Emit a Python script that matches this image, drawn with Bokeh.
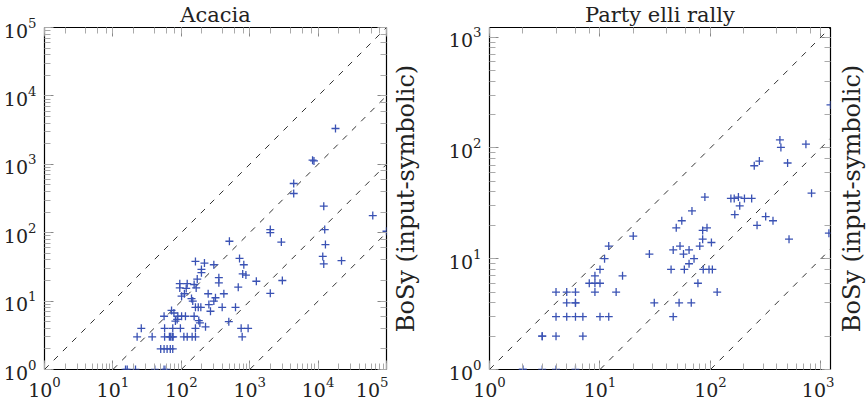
import math
from bokeh.plotting import figure
from bokeh.models import LogAxis, Range1d, LogTicker, CustomJSTickFormatter
from bokeh.layouts import row
from bokeh.embed import file_html
from bokeh.resources import INLINE

# ---------------- data ----------------
acacia_title = "Acacia"
acacia_max = 1e5
acacia_diag = [1, 10, 100, 1000]
acacia_x = [17960, 8300, 8700, 4400, 4400, 12100, 63000, 12500, 100000, 2000, 2000, 2900,
            12800, 11700, 12100, 22000, 505, 3000, 2000, 1250, 710, 820, 790, 880, 680,
            161, 218, 299, 197, 197, 171,
            354, 354, 95, 122, 154, 95, 118, 101, 111, 165,
            141, 147, 247, 316, 299, 419, 253, 267, 396, 620,
            161, 177, 193, 72, 78, 56, 89, 101, 115, 154,
            82, 87, 180, 187, 57, 75, 97, 161, 226, 26,
            495, 750, 948, 22.6, 37.5, 57, 67, 70, 74, 76,
            109, 122, 144, 161, 776, 50, 56, 62, 69, 75,
            15.3, 16.2, 21.4, 41, 56, 60]
acacia_y = [3340, 1150, 1120, 524, 374, 244, 178, 111, 105, 111, 100, 73,
            67, 45, 35, 39, 75, 20, 13, 19.5, 42, 34, 25, 24, 16,
            38, 36, 34, 29, 26, 21,
            22, 18.5, 18, 18, 17.5, 15.6, 15.3, 11.8, 12.8, 15.6,
            10.9, 10, 12.8, 11.2, 10, 12.8, 8.9, 7.1, 8.1, 8.1,
            8.1, 8.1, 8.1, 7.3, 6.7, 6, 6, 6, 6, 6,
            5.1, 5.4, 5.2, 4.8, 4, 4, 4, 4, 4.2, 4,
            5, 4, 4, 3, 3, 3, 3, 3, 3, 3,
            3, 3, 3, 3, 3, 2, 2, 2, 2, 2,
            1, 1, 1, 1, 1, 1]

party_title = "Party elli rally"
party_max = 1220
party_diag = [1, 10, 100]
party_x = [2, 2, 3, 4, 6, 3, 3, 4, 7, 4, 5, 6, 7, 10, 12, 5, 6, 6, 4, 5, 6, 9, 14, 8, 9, 10, 9, 16,
           10, 11, 12, 20,
           28, 31, 46, 52, 67, 44, 58, 46, 53, 57, 64, 49, 55, 68, 64, 71, 77, 80, 85, 85,
           93, 86, 97, 104, 102, 115,
           166, 184, 264, 316, 368, 514, 1180,
           89, 153, 164, 179, 203, 236,
           249, 277, 499, 425, 434, 731, 822, 1220]
party_y = [1, 1, 1, 1, 1, 2, 2, 2, 2, 3, 3, 3, 3, 3, 3, 4, 4, 4, 5, 5, 5, 5, 5, 6, 6, 6, 7, 7,
           8, 10, 13, 16,
           11, 4, 3, 4, 4, 8, 8, 12, 13, 11, 12, 19, 22, 27, 9, 10, 6, 13, 15, 18,
           19, 8, 8, 8, 14, 5,
           25, 30, 20, 24, 22, 15, 17,
           36, 35, 35, 36, 35, 35,
           69, 76, 73, 118, 101, 108, 39, 244]

ylabel = "BoSy (input-symbolic)"

FONT = "DejaVu Serif"
BLUE = "#3a52b4"
TXT = "#222222"
TOP, BOTTOM, FH = 25, 33, 342


def style_axis(ax, labels=True):
    ax.axis_line_color = None
    ax.major_tick_in = 9
    ax.major_tick_out = 0
    ax.minor_tick_in = 6
    ax.minor_tick_out = 0
    ax.major_tick_line_color = "#888888"
    ax.minor_tick_line_color = "#aaaaaa"
    ax.major_label_text_font = FONT
    ax.major_label_text_font_size = "19px"
    ax.major_label_text_color = TXT
    if not labels:
        ax.formatter = CustomJSTickFormatter(code="return ''")
        ax.major_label_text_font_size = "0px"
        ax.major_label_standoff = 0


def style_ylabel(ax, standoff):
    ax.axis_label = ylabel
    ax.axis_label_text_font = FONT
    ax.axis_label_text_font_size = "24px"
    ax.axis_label_text_font_style = "normal"
    ax.axis_label_text_color = TXT
    ax.axis_label_standoff = standoff


def make(title, xs, ys, vmax, diag, left, right, fw):
    p = figure(x_axis_type="log", y_axis_type="log",
               x_range=Range1d(1, vmax), y_range=Range1d(1, vmax),
               frame_width=fw, frame_height=FH,
               min_border_left=left, min_border_right=right,
               min_border_top=TOP, min_border_bottom=BOTTOM,
               output_backend="svg", toolbar_location=None, title=title)
    p.title.text_font = FONT
    p.title.text_font_size = "21px"
    p.title.text_font_style = "normal"
    p.title.text_color = TXT
    p.title.align = "center"
    p.title.standoff = 1
    p.grid.visible = False
    p.outline_line_color = "black"
    p.outline_line_width = 1.2
    for ax in p.xaxis + p.yaxis:
        style_axis(ax)
    p.xaxis.major_label_standoff = 7
    p.yaxis.major_label_standoff = 8

    top = LogAxis(ticker=LogTicker())
    style_axis(top, labels=False)
    p.add_layout(top, "above")
    rgt = LogAxis(ticker=LogTicker())
    style_axis(rgt, labels=False)
    p.add_layout(rgt, "right")

    for f in diag:
        p.line([f, vmax], [1, vmax / f], line_color="#333333", line_width=1,
               line_dash="6 7")
    p.scatter(xs, ys, marker="cross", size=8, line_color=BLUE, line_width=1.3)
    return p


p1 = make(acacia_title, acacia_x, acacia_y, acacia_max, acacia_diag, 41, 2, 342)
p2 = make(party_title, party_x, party_y, party_max, party_diag, 100, 4, 341)
# the y label of the left panel sits in the gap between the two panels
style_ylabel(p2.yaxis[0], 26)

# narrow strip carrying the y label of the right panel
p3 = figure(x_range=Range1d(0, 1), y_range=Range1d(0, 1),
            frame_width=1, frame_height=FH, min_border_left=0, min_border_right=0,
            min_border_top=TOP, min_border_bottom=BOTTOM,
            output_backend="svg", toolbar_location=None)
p3.outline_line_color = None
p3.grid.visible = False
p3.xaxis.visible = False
ya = p3.yaxis[0]
ya.axis_line_color = None
ya.major_tick_line_color = None
ya.minor_tick_line_color = None
ya.major_tick_out = 0
ya.minor_tick_out = 0
ya.formatter = CustomJSTickFormatter(code="return ''")
ya.major_label_text_font_size = "0px"
ya.major_label_standoff = 0
style_ylabel(ya, 0)

layout = row(p1, p2, p3)
open("out.html", "w").write(file_html(layout, INLINE))
